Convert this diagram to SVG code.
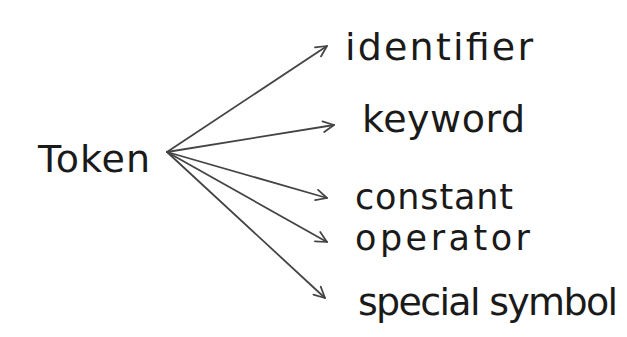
<svg xmlns="http://www.w3.org/2000/svg" width="627" height="337" viewBox="0 0 627 337">
<defs>
<marker id="ah" viewBox="0 0 12 12" refX="11" refY="6" markerWidth="13" markerHeight="13" markerUnits="userSpaceOnUse" orient="auto">
<path d="M1,1 L11,6 L1,11" fill="none" stroke="#444444" stroke-width="1.6" stroke-linecap="round" stroke-linejoin="round"/>
</marker>
<style>
.lbl{font-family:"DejaVu Sans","Liberation Sans",sans-serif;font-size:38px;fill:#1a1a1a}
.sm{font-size:35px}
.edge{fill:none;stroke:#444444;stroke-width:1.8;stroke-linecap:round;marker-end:url(#ah)}
</style>
</defs>
<rect width="627" height="337" fill="#ffffff"/>
<g id="connectors">
<path class="edge" d="M167,152 L327,46"/>
<path class="edge" d="M167,152 L334,125"/>
<path class="edge" d="M167,152 L327,198"/>
<path class="edge" d="M167,152 L327,242"/>
<path class="edge" d="M167,152 L325,298"/>
</g>
<g id="token"><text class="lbl" x="38" y="172" textLength="112" lengthAdjust="spacing">Token</text></g>
<g id="identifier"><text class="lbl" x="345" y="60" textLength="188" lengthAdjust="spacing">identifier</text></g>
<g id="keyword"><text class="lbl" x="362" y="132" textLength="163" lengthAdjust="spacing">keyword</text></g>
<g id="constant"><text class="lbl sm" x="355" y="209" textLength="158" lengthAdjust="spacing">constant</text></g>
<g id="operator"><text class="lbl sm" x="355" y="250" textLength="175" lengthAdjust="spacing">operator</text></g>
<g id="special-symbol"><text class="lbl" x="358" y="315" textLength="260" lengthAdjust="spacing">special symbol</text></g>
</svg>
